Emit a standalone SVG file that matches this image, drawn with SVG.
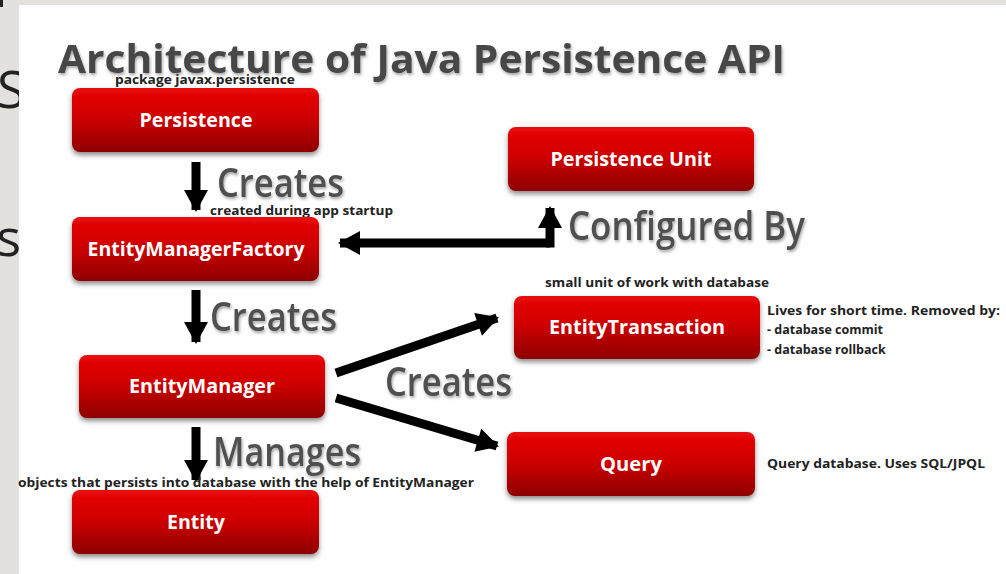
<svg xmlns="http://www.w3.org/2000/svg" width="1006" height="574" viewBox="0 0 1006 574">
<defs>
<linearGradient id="red" x1="0" y1="0" x2="0" y2="1">
<stop offset="0" stop-color="#e80808"/>
<stop offset="0.45" stop-color="#d00000"/>
<stop offset="1" stop-color="#8e0000"/>
</linearGradient>
<filter id="sh" x="-10%" y="-20%" width="120%" height="150%">
<feDropShadow dx="0" dy="3" stdDeviation="2.5" flood-color="#000" flood-opacity="0.45"/>
</filter>
<filter id="tsh" x="-5%" y="-20%" width="110%" height="150%">
<feDropShadow dx="1" dy="2" stdDeviation="1.5" flood-color="#000" flood-opacity="0.35"/>
</filter>
<marker id="ah" markerUnits="userSpaceOnUse" markerWidth="26" markerHeight="26" viewBox="0 0 26 26" refX="22" refY="13" orient="auto">
<path d="M2,1 L24,13 L2,25 Z" fill="#000"/>
</marker>
</defs>
<style>
.box{fill:url(#red);filter:url(#sh)}
.lbl{font-family:"Open Sans","Liberation Sans",sans-serif;font-weight:bold;font-size:19px;fill:#fff;text-anchor:middle}
.big{font-family:"Open Sans","Liberation Sans",sans-serif;font-weight:600;font-size:40px;fill:#505050;filter:url(#tsh)}
.small{font-family:"Open Sans","Liberation Sans",sans-serif;font-weight:bold;font-size:12.5px;fill:#222}
.conn{stroke:#000;stroke-width:9;fill:none}
</style>
<rect x="0" y="0" width="1006" height="574" fill="#e2e1dd"/>
<text x="-3" y="108" font-family="Open Sans, Liberation Sans, sans-serif" font-size="52" fill="#222">S</text>
<text x="-33" y="256" font-family="Open Sans, Liberation Sans, sans-serif" font-size="52" fill="#222">es</text>
<rect x="0" y="0" width="3" height="7" fill="#222"/>
<rect x="19" y="5" width="987" height="569" fill="#fefefe"/>

<text x="58" y="73" font-family="Open Sans, Liberation Sans, sans-serif" font-weight="bold" font-size="40" fill="#474747" textLength="727" lengthAdjust="spacingAndGlyphs" filter="url(#tsh)">Architecture of Java Persistence API</text>

<g id="connectors">
<line class="conn" x1="196" y1="162" x2="196" y2="210" marker-end="url(#ah)"/>
<line class="conn" x1="196" y1="290" x2="196" y2="342" marker-end="url(#ah)"/>
<line class="conn" x1="196" y1="427" x2="196" y2="480" marker-end="url(#ah)"/>
<path class="conn" d="M550,243 L340,243" marker-end="url(#ah)"/>
<path class="conn" d="M546,243 L550,243 L550,208" marker-end="url(#ah)"/>
<line class="conn" x1="336" y1="373" x2="497" y2="318" marker-end="url(#ah)"/>
<line class="conn" x1="336" y1="398" x2="497" y2="446" marker-end="url(#ah)"/>
</g>

<g id="label-creates1">
<text class="big" x="217" y="197" textLength="127" lengthAdjust="spacingAndGlyphs">Creates</text>
<text class="small" x="210" y="215" textLength="183" lengthAdjust="spacingAndGlyphs">created during app startup</text>
</g>
<g id="label-configured">
<text class="big" x="568" y="240" textLength="237" lengthAdjust="spacingAndGlyphs">Configured By</text>
</g>
<g id="label-creates2">
<text class="big" x="210" y="331" textLength="127" lengthAdjust="spacingAndGlyphs">Creates</text>
</g>
<g id="label-creates3">
<text class="big" x="385" y="396" textLength="127" lengthAdjust="spacingAndGlyphs">Creates</text>
</g>
<g id="label-manages">
<text class="big" x="213" y="466" textLength="148" lengthAdjust="spacingAndGlyphs">Manages</text>
</g>

<g id="node-persistence">
<text class="small" x="115" y="84" textLength="180" lengthAdjust="spacingAndGlyphs">package javax.persistence</text>
<rect class="box" x="72" y="88" width="247" height="64" rx="8"/>
<text class="lbl" x="196" y="127" textLength="113" lengthAdjust="spacingAndGlyphs">Persistence</text>
</g>
<g id="node-emf">
<rect class="box" x="72" y="217" width="247" height="64" rx="8"/>
<text class="lbl" x="196" y="256" textLength="217" lengthAdjust="spacingAndGlyphs">EntityManagerFactory</text>
</g>
<g id="node-em">
<rect class="box" x="79" y="355" width="246" height="63" rx="8"/>
<text class="lbl" x="202" y="393" textLength="146" lengthAdjust="spacingAndGlyphs">EntityManager</text>
</g>
<g id="node-entity">
<text class="small" x="18" y="487" textLength="456" lengthAdjust="spacingAndGlyphs">objects that persists into database with the help of EntityManager</text>
<rect class="box" x="72" y="490" width="247" height="64" rx="8"/>
<text class="lbl" x="196" y="529" textLength="58" lengthAdjust="spacingAndGlyphs">Entity</text>
</g>
<g id="node-pu">
<rect class="box" x="508" y="127" width="246" height="64" rx="8"/>
<text class="lbl" x="631" y="166" textLength="161" lengthAdjust="spacingAndGlyphs">Persistence Unit</text>
</g>
<g id="node-et">
<text class="small" x="545" y="287" textLength="224" lengthAdjust="spacingAndGlyphs">small unit of work with database</text>
<rect class="box" x="514" y="296" width="246" height="63" rx="8"/>
<text class="lbl" x="637" y="334" textLength="176" lengthAdjust="spacingAndGlyphs">EntityTransaction</text>
<text class="small" x="767" y="315" textLength="233" lengthAdjust="spacingAndGlyphs">Lives for short time. Removed by:</text>
<text class="small" x="767" y="334">- database commit</text>
<text class="small" x="767" y="354">- database rollback</text>
</g>
<g id="node-query">
<rect class="box" x="507" y="432" width="248" height="64" rx="8"/>
<text class="lbl" x="631" y="471" textLength="62" lengthAdjust="spacingAndGlyphs">Query</text>
<text class="small" x="767" y="468" textLength="218" lengthAdjust="spacingAndGlyphs">Query database. Uses SQL/JPQL</text>
</g>
</svg>
